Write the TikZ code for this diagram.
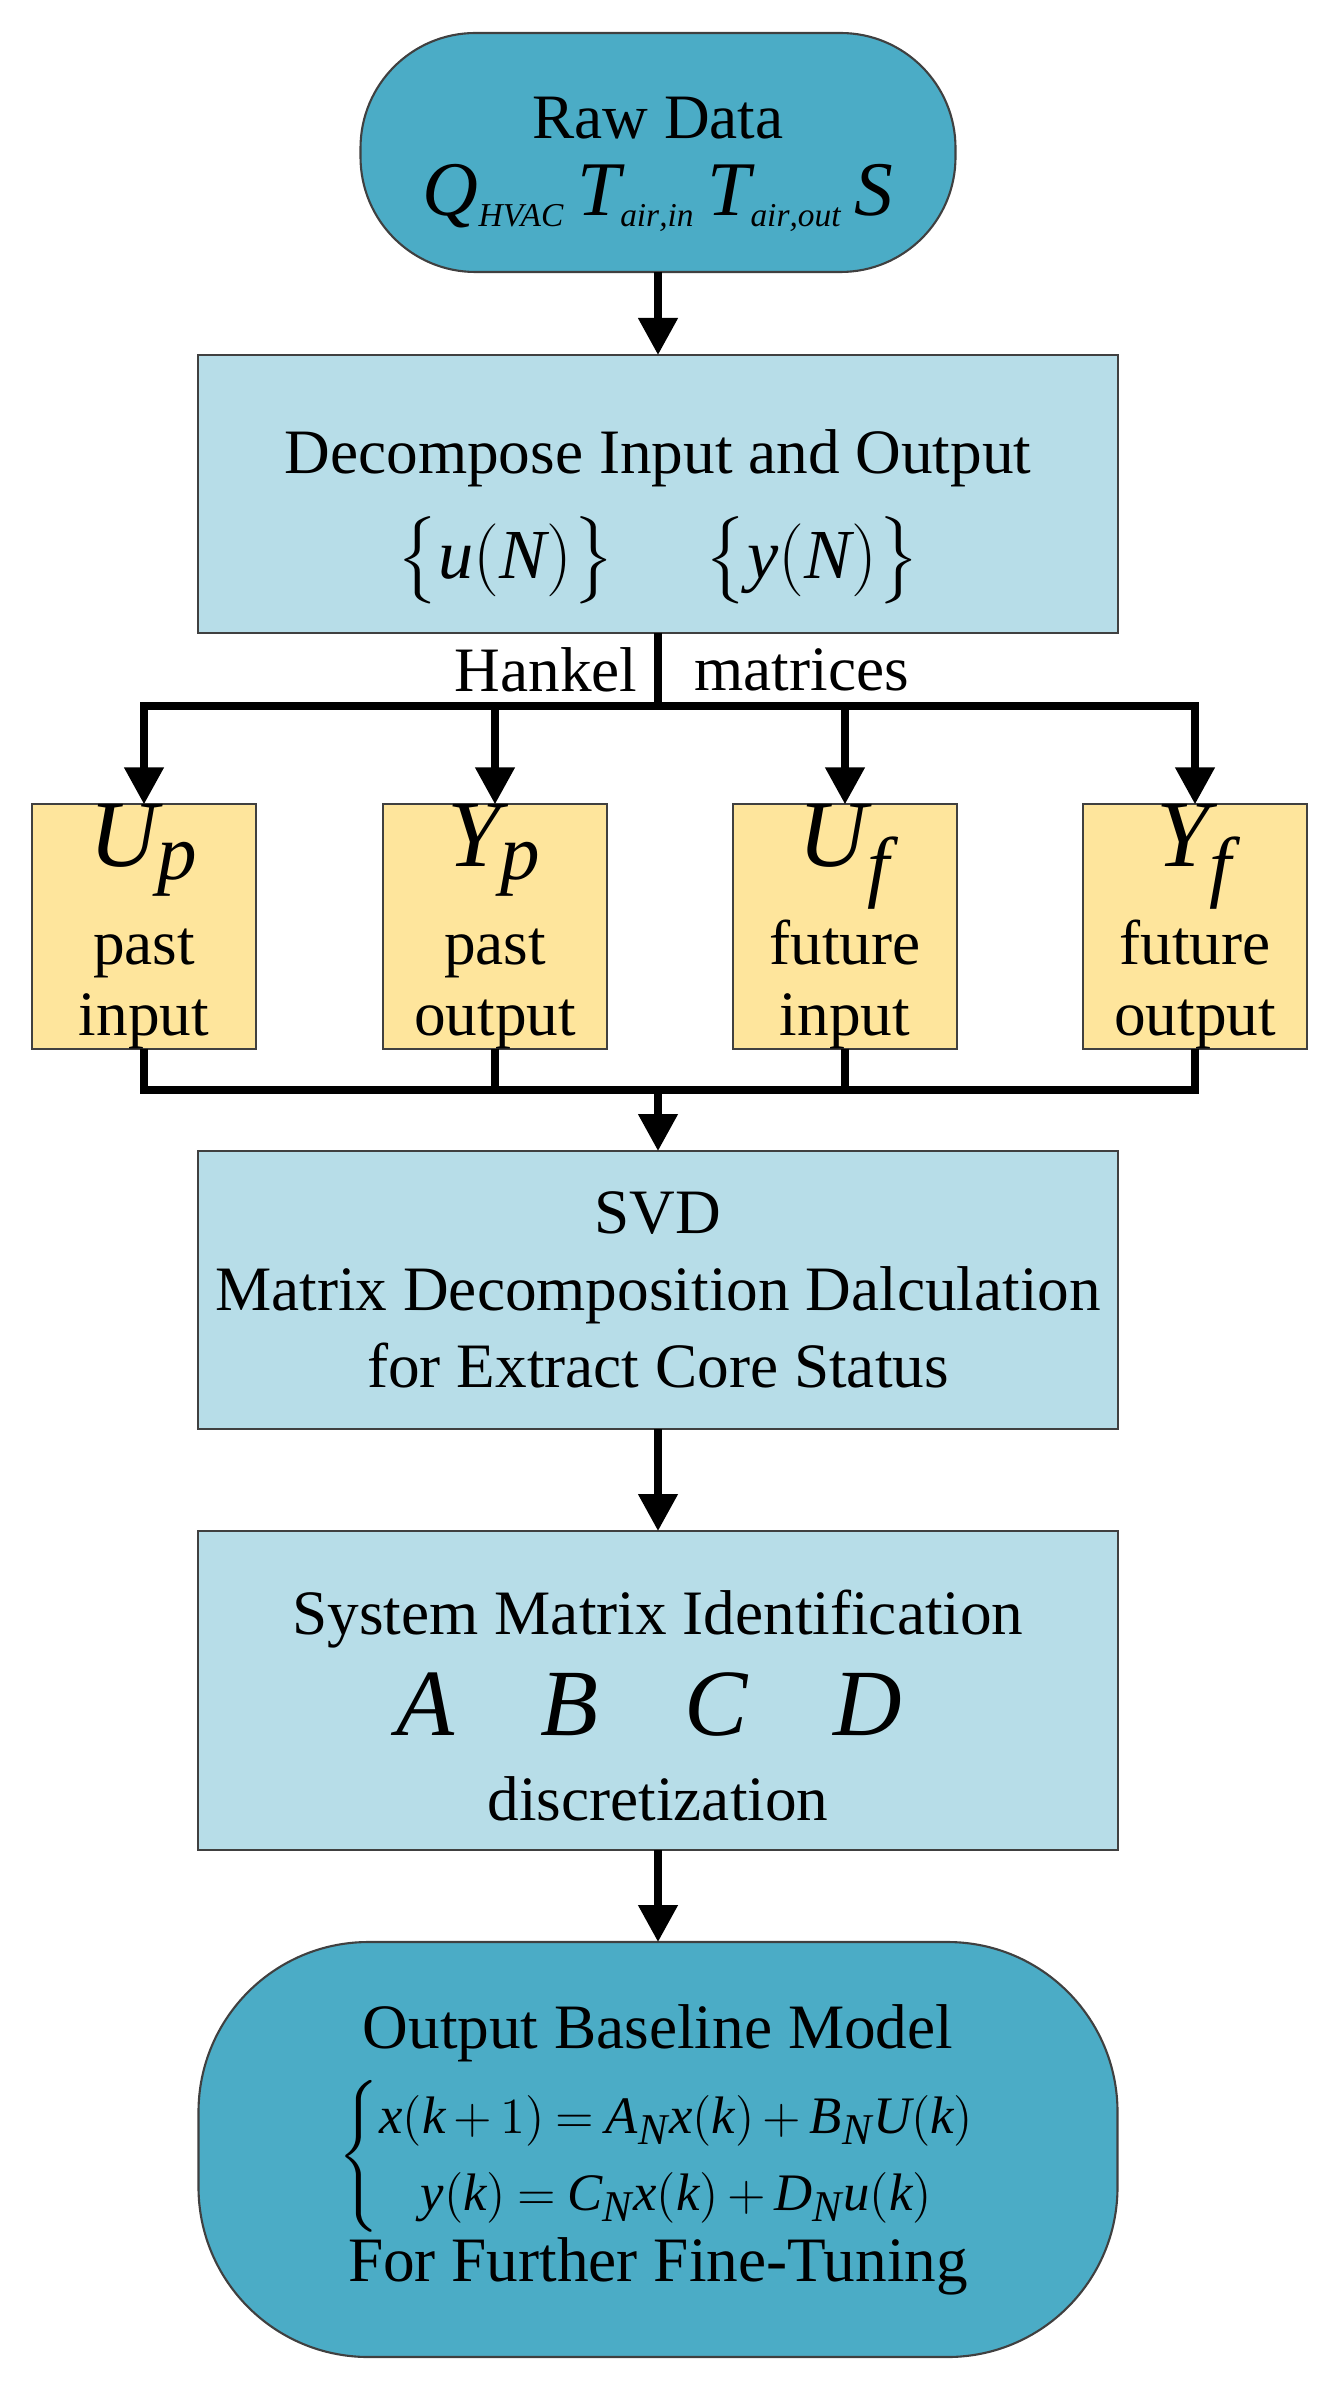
\documentclass[tikz,border=0pt]{standalone}
\usepackage{amsmath}
\usepackage{fontspec}
\setmainfont{Liberation Serif}
\usepackage[italic]{mathastext}
\usepackage{tikz}
\usetikzlibrary{arrows.meta,positioning}
\definecolor{TermBlue}{RGB}{75,172,198}
\definecolor{BoxBlue}{RGB}{183,221,232}
\definecolor{HankelYellow}{RGB}{254,229,156}
\newcommand{\rawsub}[1]{\mbox{\fontsize{9.5}{10}\selectfont\itshape #1}}

\begin{document}
\begin{tikzpicture} [>={Triangle[length=3.7mm,width=3.8mm]}, black, text=black, line width=2.2pt,
	   every node/.style={font=\fontsize{18}{22}\selectfont},
	   terminal/.style={rectangle, rounded corners=#1, draw=black!75, line width=0.6pt,
	                    fill=TermBlue, align=center, inner sep=0pt, outer sep=0pt},
	   process/.style={rectangle, draw=black!75, line width=0.6pt, fill=BoxBlue,
	                   minimum width=9.2cm, align=center, inner sep=0pt, outer sep=0pt},
	   hankelbox/.style={rectangle, draw=black!75, line width=0.6pt, fill=HankelYellow,
	                     minimum width=2.24cm, minimum height=2.43cm, align=center,
	                     inner sep=0pt, outer sep=0pt}]
	\useasboundingbox[fill=white] (0,0) rectangle (13.39,-23.97);
	%% Raw data and decomposition
	\node [terminal=1.15cm, minimum width=5.95cm, minimum height=2.39cm] (raw) at (6.58,-1.525)
	      {\rule{0pt}{0.65cm}Raw Data\\[0pt] {\fontsize{22}{26}\selectfont
	       $Q_{\rawsub{HVAC}}\,T_{\rawsub{air\/,in}}\,T_{\rawsub{air\/,out}}\,S$}};
	\node [process, minimum height=2.78cm, below=0.83cm of raw] (decomp)
	      {\rule{0pt}{0.9cm}Decompose Input and Output\\[8pt] {\fontsize{20}{24}\selectfont
	       $\big\{u(N)\big\}\hspace{0.9cm}\big\{y(N)\big\}$}};
	%% Hankel matrices
	\node [hankelbox] (up) at (1.44,-9.265) {{\fontsize{27}{28}\selectfont\smash[b]{$U_p$}}\\[6pt] past\\[-2pt]input};
	\node [hankelbox] (yp) at (4.95,-9.265) {{\fontsize{27}{28}\selectfont\smash[b]{$Y_p$}}\\[6pt] past\\[-2pt]output};
	\node [hankelbox] (uf) at (8.45,-9.265) {{\fontsize{27}{28}\selectfont\smash[b]{$U_f$}}\\[6pt] future\\[-2pt]input};
	\node [hankelbox] (yf) at (11.95,-9.265) {{\fontsize{27}{28}\selectfont\smash[b]{$Y_f$}}\\[6pt] future\\[-2pt]output};
	%% Identification steps
	\node [process, minimum height=2.78cm] (svd) at (6.58,-12.90)
	      {SVD\\Matrix Decomposition Dalculation\\for Extract Core Status};
	\node [process, minimum height=3.19cm, below=1.02cm of svd] (sysid)
	      {\rule{0pt}{0.74cm}System Matrix Identification\\[7pt] {\fontsize{27}{30}\selectfont
	       $A\hspace{0.86cm}B\hspace{0.86cm}C\hspace{0.86cm}D\hspace{0.18cm}$}\\[2pt] discretization};
	\node [terminal=1.7cm, minimum width=9.19cm, minimum height=4.15cm, below=0.92cm of sysid] (out)
	      {Output Baseline Model\\[4pt]
	       {\fontsize{15}{22}\selectfont \medmuskip=3mu \thickmuskip=4mu
	        $\left\{\begin{array}{@{}c@{}} x(k+1)=A_Nx(k)+B_NU(k)\\ y(k)=C_Nx(k)+D_Nu(k)\end{array}\right.$}\\
	       For Further Fine-Tuning};
	%% Branch and merge points
	\coordinate (split) at (6.58,-7.06);
	\coordinate (merge) at (6.58,-10.90);

	%% Simple paths
	\draw[->] (raw) -- (decomp);
	\draw (decomp) -- (split)
	      node[midway,left=0.05cm] (hlabel) {Hankel}
	      node[midway,right=0.21cm] (mlabel) {matrices};
	\draw[->] (split) -| (up);
	\draw[->] (split) -| (yp);
	\draw[->] (split) -| (uf);
	\draw[->] (split) -| (yf);
	\draw (up) |- (merge);
	\draw (yp) |- (merge);
	\draw (uf) |- (merge);
	\draw (yf) |- (merge);
	\draw[->] (merge) -- (svd);
	\draw[->] (svd) -- (sysid);
	\draw[->] (sysid) -- (out);
\end{tikzpicture}
\end{document}
